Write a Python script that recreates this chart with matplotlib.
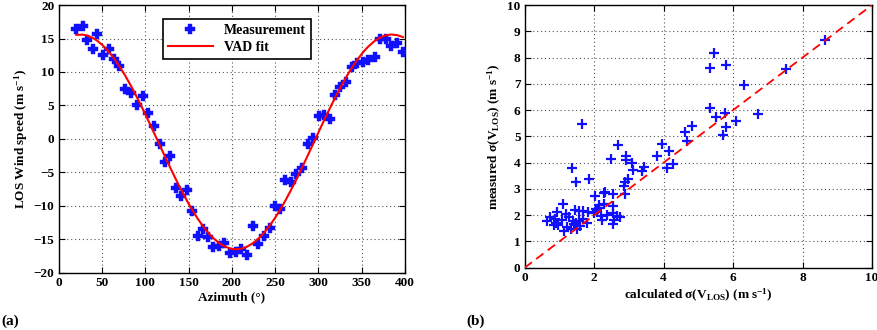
import matplotlib
matplotlib.use('Agg')
import matplotlib.pyplot as plt

# Painel (a): medições de vento LOS e ajuste VAD
azimute = [20.4, 28.1, 33.1, 39.2, 44.6, 51.2, 57.7, 63.8, 70.0, 76.5,
           83.1, 90.0, 96.9, 103.5, 110.0, 116.5, 122.3, 128.8, 135.0, 141.2,
           148.5, 153.5, 160.4, 166.5, 172.7, 178.8, 185.4, 191.2, 198.5, 204.6,
           210.8, 217.3, 224.6, 230.8, 236.9, 243.8, 249.6, 256.2, 261.9, 268.0,
           274.6, 281.2, 287.7, 293.8, 300.4, 306.5, 313.0, 319.2, 325.4, 332.3,
           338.5, 345.0, 351.5, 357.7, 365.0, 371.2, 377.7, 383.8, 390.8, 397.7]
medicao = [16.4, 16.9, 14.8, 13.4, 15.7, 12.5, 13.5, 12.0, 10.9, 7.4,
           6.9, 5.1, 6.4, 3.8, 2.0, -0.8, -3.5, -2.6, -7.3, -8.5,
           -7.6, -10.8, -14.5, -13.5, -14.6, -16.2, -16.0, -15.5, -17.0, -16.9,
           -16.4, -17.3, -13.0, -15.7, -14.5, -13.3, -10.0, -10.5, -6.1, -6.4,
           -5.2, -4.3, -0.8, 0.2, 3.4, 3.6, 3.0, 6.5, 7.7, 8.5,
           10.7, 11.4, 11.5, 11.8, 12.3, 14.9, 14.9, 13.9, 14.3, 13.0]
ajuste_vad = [15.55, 15.58, 15.44, 15.11, 14.67, 13.95, 13.06, 12.06, 10.90, 9.54,
              8.03, 6.33, 4.54, 2.75, 0.95, -0.87, -2.49, -4.28, -5.94, -7.54,
              -9.31, -10.44, -11.88, -13.01, -14.02, -14.85, -15.57, -16.04, -16.40, -16.50,
              -16.42, -16.13, -15.57, -14.90, -14.08, -12.96, -11.88, -10.51, -9.21, -7.74,
              -6.05, -4.28, -2.49, -0.79, 1.06, 2.75, 4.51, 6.13, 7.67, 9.28,
              10.60, 11.84, 12.93, 13.81, 14.63, 15.14, 15.47, 15.60, 15.52, 15.21]

# Painel (b): sigma calculado vs medido
sigma_calc = [8.64, 7.53, 5.45, 5.33, 5.81, 6.31, 5.34, 5.51, 5.77, 5.79,
              5.70, 6.08, 6.71, 4.62, 4.66, 4.83, 3.95, 4.15, 3.82, 4.26,
              4.11, 2.68, 2.48, 2.92, 2.91, 3.08, 3.12, 3.38, 3.44, 2.96,
              2.89, 2.86, 2.90, 1.66, 1.36, 1.48, 1.85, 2.01, 2.27, 2.31,
              2.55, 2.27, 2.54, 2.14, 2.04, 2.55, 2.65, 2.36, 2.23, 2.58,
              2.55, 2.73, 2.21, 0.65, 0.73, 0.86, 0.94, 0.83, 0.97, 0.91,
              1.07, 1.11, 1.13, 1.18, 1.29, 1.34, 1.43, 1.44, 1.39, 1.52,
              1.55, 1.57, 1.67, 1.69, 1.80, 1.81, 1.99, 2.07, 2.13, 1.21,
              1.59, 1.48]
sigma_med = [8.65, 7.56, 8.19, 7.60, 7.72, 6.97, 6.07, 5.75, 5.90, 5.37,
             5.05, 5.57, 5.84, 5.15, 4.82, 5.38, 4.70, 4.45, 4.24, 3.93,
             3.81, 4.66, 4.14, 4.26, 4.10, 4.00, 3.71, 3.67, 3.85, 3.38,
             3.27, 3.11, 2.79, 5.48, 3.81, 3.26, 3.36, 2.74, 2.84, 2.88,
             2.79, 2.41, 2.36, 2.37, 2.22, 2.07, 1.97, 2.01, 1.81, 1.81,
             1.65, 1.94, 1.95, 1.78, 1.92, 1.84, 2.11, 1.64, 1.64, 1.71,
             1.81, 2.42, 1.40, 2.06, 1.93, 1.46, 1.68, 2.18, 1.79, 1.49,
             1.78, 2.17, 1.84, 2.16, 1.71, 2.12, 2.09, 2.20, 2.26, 1.56,
             1.59, 1.71]
linha_x = [0, 10]
linha_y = [0, 10]

plt.rcParams['font.family'] = ['Liberation Serif', 'DejaVu Serif']
plt.rcParams['font.weight'] = 'bold'
plt.rcParams['mathtext.default'] = 'regular'

fig = plt.figure(figsize=(8.78, 3.3), dpi=100)
ax1 = fig.add_axes([0.0668, 0.1736, 0.3944, 0.811])
ax2 = fig.add_axes([0.5976, 0.1888, 0.3956, 0.796])

# --- painel (a)
ax1.plot(azimute, medicao, linestyle='none', marker='P', markersize=6.5,
         color='#1010ff', markeredgewidth=0.3, label='Measurement', zorder=3)
ax1.plot(azimute, ajuste_vad, color='#ff0000', linewidth=1.5, label='VAD fit', zorder=4)
ax1.set_xlim(0, 400)
ax1.set_ylim(-20, 20)
ax1.set_xticks(range(0, 401, 50))
ax1.set_yticks(range(-20, 21, 5))
ax1.set_xlabel('Azimuth (°)', fontsize=9.5, fontweight='bold', labelpad=2)
ax1.set_ylabel('LOS Wind speed (m s$^{-1}$)', fontsize=9.5, fontweight='bold', labelpad=3)
leg = ax1.legend(loc='upper center', bbox_to_anchor=(0.515, 0.975), fontsize=10,
                 fancybox=False, framealpha=1, edgecolor='black',
                 borderpad=0.35, handlelength=3.2, labelspacing=0.3)
leg.get_frame().set_linewidth(1.2)

# --- painel (b)
ax2.plot(sigma_calc, sigma_med, linestyle='none', marker='+', markersize=7.5,
         markeredgewidth=1.6, color='#1010ff', zorder=3)
ax2.plot(linha_x, linha_y, color='#ff0000', linestyle=(0, (5, 3)), linewidth=1.3, zorder=4)
ax2.set_xlim(0, 10)
ax2.set_ylim(0, 10)
ax2.set_xticks(range(0, 11, 2))
ax2.set_yticks(range(0, 11, 1))
ax2.set_xlabel('calculated σ(V$_{LOS}$) (m s$^{-1}$)', fontsize=9.5, fontweight='bold', labelpad=2)
ax2.set_ylabel('measured σ(V$_{LOS}$) (m s$^{-1}$)', fontsize=9.5, fontweight='bold', labelpad=3)

for ax in (ax1, ax2):
    ax.grid(True, linestyle=(0, (1, 2.5)), color='#555555', linewidth=0.8)
    ax.tick_params(direction='in', top=True, right=True, labelsize=9.5, pad=3, length=4)
    for lab in ax.get_xticklabels() + ax.get_yticklabels():
        lab.set_fontweight('bold')
    for s in ax.spines.values():
        s.set_linewidth(1.0)

fig.text(0.001, 0.015, '(a)', fontsize=11, fontweight='bold')
fig.text(0.531, 0.015, '(b)', fontsize=11, fontweight='bold')

fig.savefig('out.png', dpi=100)
